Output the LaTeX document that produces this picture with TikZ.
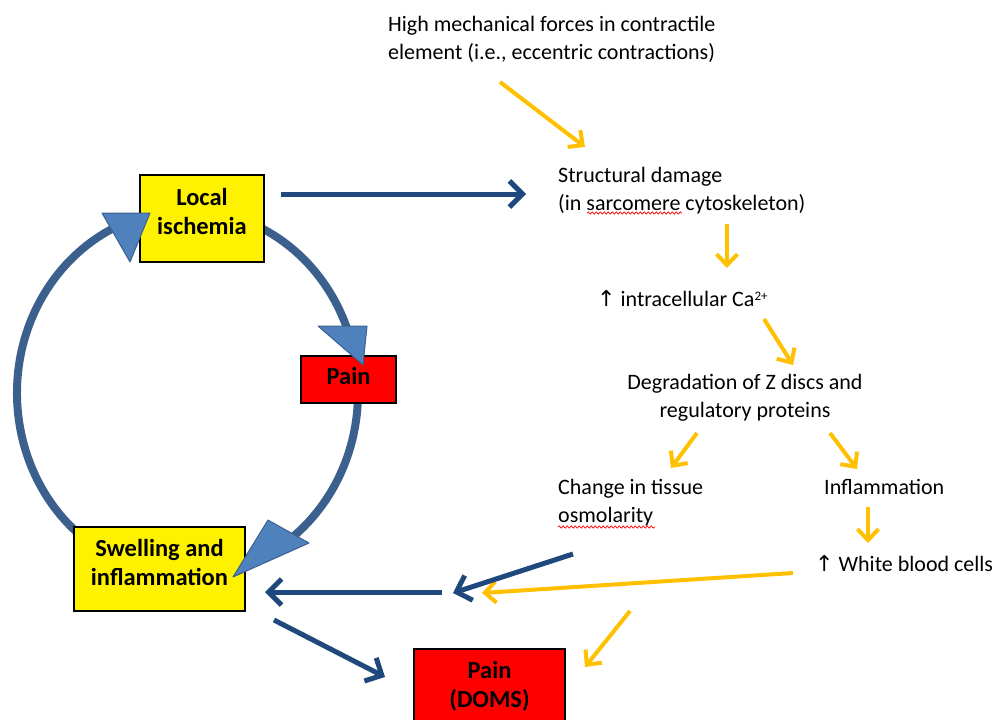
\documentclass[tikz,border=0pt]{standalone}
\usepackage{fontspec}
\setmainfont{Carlito}
\newfontfamily\arrowfont{DejaVu Sans}
\usetikzlibrary{arrows.meta,decorations.pathmorphing}
\definecolor{gold}{RGB}{255,192,0}
\definecolor{navy}{RGB}{31,73,125}
\definecolor{ringline}{RGB}{60,96,142}
\definecolor{ringfill}{RGB}{79,129,189}
\tikzset{
  goldarrow/.style={draw=gold, line width=4pt, -{Straight Barb[length=11pt,width=21pt]}},
  navyarrow/.style={draw=navy, line width=5pt, -{Straight Barb[length=13pt,width=26pt]}},
  ring/.style={draw=ringline, line width=8pt},
  ringhead/.style={fill=ringfill, draw=ringline, line width=1pt, line join=round},
  note/.style={font=\fontsize{22}{27.5}\selectfont, inner sep=0pt, align=left},
  cellbox/.style={draw=black, line width=1.5pt, font=\bfseries\fontsize{24.5}{29}\selectfont, align=center, inner sep=0pt},
  squiggle/.style={draw=red, line width=0.7pt, decorate, decoration={snake, amplitude=1.1pt, segment length=4pt}}
}
\begin{document}
\begin{tikzpicture}[x=1pt,y=-1pt]
  \useasboundingbox (0,0) rectangle (999,720); \clip (0,0) rectangle (999,720);
  \draw[ring] (187.5,393) ++(125:170.5 and 183) arc[start angle=125,end angle=245,x radius=170.5,y radius=183];
  \draw[ring] (187.5,393) ++(-68:170.5 and 183) arc[start angle=-68,end angle=-20,x radius=170.5,y radius=183];
  \draw[ring] (187.5,393) ++(0:170.5 and 183) arc[start angle=0,end angle=55,x radius=170.5,y radius=183];
  \node[cellbox, fill=yellow, minimum width=124pt, minimum height=87pt, text depth=15pt] (isch) at (202,218.5) {Local\\ischemia};
  \node[cellbox, fill=red, minimum width=95pt, minimum height=47pt, text depth=8pt] (pain) at (348.5,379.5) {Pain};
  \node[cellbox, fill=yellow, minimum width=171pt, minimum height=84pt, text depth=14pt] (swell) at (159.5,569) {Swelling and\\inflammation};
  \node[cellbox, fill=red, minimum width=151pt, minimum height=86pt, text depth=16pt] (doms) at (489.5,692) {Pain\\(DOMS)};
  \draw[ringhead] (102,213) -- (150,213) -- (130,262) -- cycle;
  \draw[ringhead] (318,326) -- (367,326) -- (363,365) -- cycle;
  \draw[ringhead] (268,520) -- (309,543) -- (233,577) -- cycle;

  \node[note, anchor=base west] (force) at (388,59) {High mechanical forces in contractile\\element (i.e., eccentric contractions)};
  \node[note, anchor=base west] (damage) at (558,210) {Structural damage\\(in sarcomere cytoskeleton)};
  \node[note, anchor=base west] (calc) at (597,306) {{\arrowfont ↑} intracellular Ca\raisebox{0.27em}{\fontsize{13}{13}\selectfont 2+}};
  \node[note, anchor=base, align=center] (zdisc) at (745,417) {Degradation of Z discs and\\regulatory proteins};
  \node[note, anchor=base west] (osmo) at (558,522) {Change in tissue\\osmolarity};
  \node[note, anchor=base west] (infl) at (824,494.5) {Inflammation};
  \node[note, anchor=base west] (wbc) at (815,571) {{\arrowfont ↑} White blood cells};
  \draw[squiggle] (587,213) -- (682,213); \draw[squiggle] (558,527) -- (655,527);

  \coordinate (f1) at (500,82); \coordinate (f2) at (585,147);
  \coordinate (d1) at (727,224); \coordinate (d2) at (727,268);
  \coordinate (c1) at (764,319); \coordinate (c2) at (793,365);
  \coordinate (z1) at (697,433); \coordinate (z2) at (671,468);
  \coordinate (z3) at (830,433); \coordinate (z4) at (857,469);
  \coordinate (i1) at (868,507); \coordinate (i2) at (868,543);
  \coordinate (w1) at (793,573); \coordinate (w2) at (482,593);
  \coordinate (p1) at (630,611); \coordinate (p2) at (585,667);
  \coordinate (s1) at (281,194); \coordinate (s2) at (526,194);
  \coordinate (o1) at (573,554); \coordinate (o2) at (453,593);
  \coordinate (h1) at (442,592); \coordinate (h2) at (265,592);
  \coordinate (q1) at (274,620); \coordinate (q2) at (385,677);
  \draw[goldarrow] (f1) -- (f2); \draw[goldarrow] (d1) -- (d2); \draw[goldarrow] (c1) -- (c2);
  \draw[goldarrow] (z1) -- (z2); \draw[goldarrow] (z3) -- (z4); \draw[goldarrow] (i1) -- (i2);
  \draw[goldarrow] (w1) -- (w2); \draw[goldarrow] (p1) -- (p2);
  \draw[navyarrow] (s1) -- (s2); \draw[navyarrow] (o1) -- (o2);
  \draw[navyarrow] (h1) -- (h2); \draw[navyarrow] (q1) -- (q2);
\end{tikzpicture}
\end{document}
